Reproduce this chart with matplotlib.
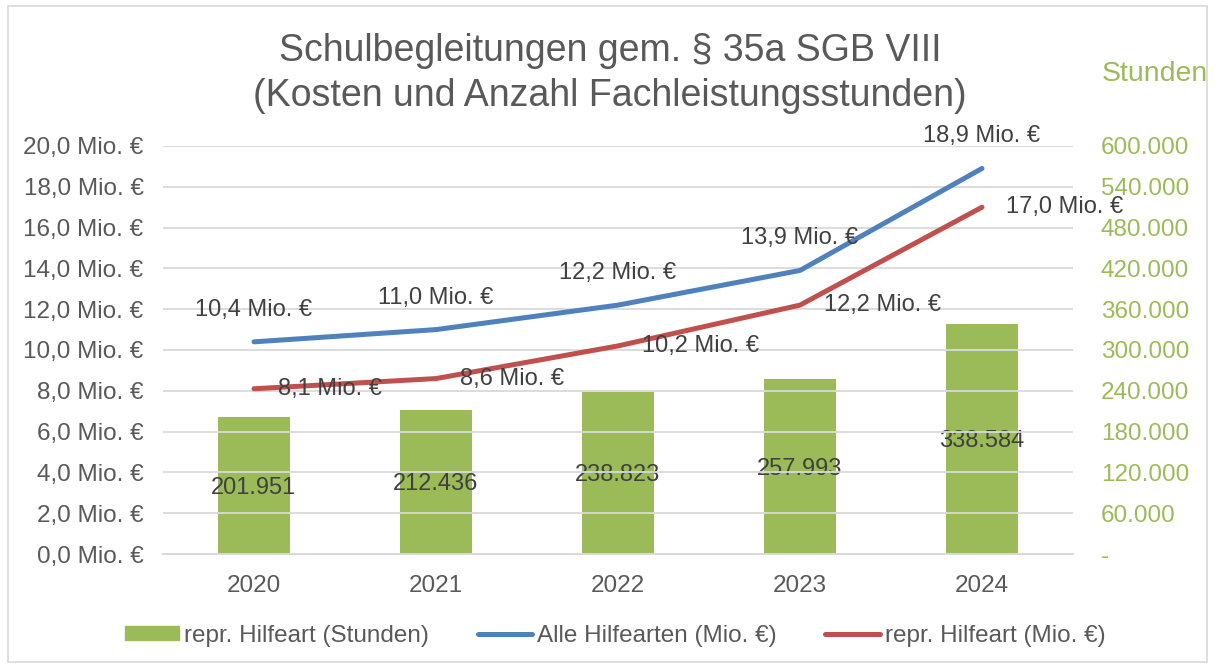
import matplotlib
matplotlib.use("Agg")
import matplotlib.pyplot as plt
from matplotlib.patches import Rectangle
from matplotlib.lines import Line2D
from matplotlib.ticker import FuncFormatter, MultipleLocator

plt.rcParams['font.family'] = ['Liberation Sans', 'DejaVu Sans']

years = ["2020", "2021", "2022", "2023", "2024"]
hours = [201951, 212436, 238823, 257993, 338584]
all_cost = [10.4, 11.0, 12.2, 13.9, 18.9]
repr_cost = [8.1, 8.6, 10.2, 12.2, 17.0]

title_lines = ["Schulbegleitungen gem. § 35a SGB VIII", "(Kosten und Anzahl Fachleistungsstunden)"]
legend_labels = ["repr. Hilfeart (Stunden)", "Alle Hilfearten (Mio. €)", "repr. Hilfeart (Mio. €)"]

GREEN = "#9BBB59"
BLUE = "#4F81BD"
RED = "#C0504D"
GREY_TXT = "#595959"
DARK_TXT = "#404040"
GRID = "#D9D9D9"

fig = plt.figure(figsize=(12.17, 6.68), dpi=100)
fig.patches.append(Rectangle((8/1217, 6/668), 1199/1217, 656/668, transform=fig.transFigure,
                             fill=False, edgecolor=GRID, linewidth=1.2))

ax = fig.add_axes([163/1217, 114/668, 910/1217, 408/668])
ax2 = ax.twinx()

x = list(range(len(years)))

# bars on the secondary axis
bars = ax2.bar(x, hours, width=0.4, color=GREEN, zorder=2)
ax2.set_ylim(0, 600000)
ax2.yaxis.set_major_locator(MultipleLocator(60000))
ax2.yaxis.set_major_formatter(FuncFormatter(lambda v, p: "-" if v == 0 else f"{int(v):,}".replace(",", ".")))
ax2.tick_params(axis='y', colors=GREEN, labelsize=17.5, length=0, pad=20)
for b, h in zip(bars, hours):
    ax2.text(b.get_x() + b.get_width() / 2, h / 2, f"{h:,}".replace(",", "."),
             ha='center', va='center_baseline', fontsize=17, color=DARK_TXT, zorder=5)

ax.set_xlim(-0.5, len(years) - 0.5)
ax.set_ylim(0, 20)
ax.yaxis.set_major_locator(MultipleLocator(2))
ax.yaxis.set_major_formatter(FuncFormatter(lambda v, p: f"{v:.1f}".replace(".", ",") + " Mio. €"))
ax.tick_params(axis='y', colors=GREY_TXT, labelsize=17.5, length=0, pad=14)
ax.set_xticks(x)
ax.set_xticklabels(years)
ax.tick_params(axis='x', colors=GREY_TXT, labelsize=17.5, length=0, pad=15)
ax.grid(axis='y', color=GRID, linewidth=1.3, zorder=0)
ax.set_axisbelow(True)
for a in (ax, ax2):
    for s in ['top', 'left', 'right']:
        a.spines[s].set_visible(False)
    a.spines['bottom'].set_color(GRID)
    a.spines['bottom'].set_linewidth(1.3)

# lines drawn above the bars
ax.set_zorder(ax2.get_zorder() + 1)
ax.patch.set_visible(False)

for ys, col in ((all_cost, BLUE), (repr_cost, RED)):
    ax.plot(x, ys, color=col, linewidth=3.6, solid_capstyle='round', solid_joinstyle='round', zorder=3)

for xi, v in zip(x, all_cost):
    ax.annotate(f"{v:.1f}".replace(".", ",") + " Mio. €", (xi, v), xytext=(0, 23),
                textcoords='offset points', ha='center', va='center', fontsize=17, color=DARK_TXT, zorder=5)
for xi, v in zip(x, repr_cost):
    ax.annotate(f"{v:.1f}".replace(".", ",") + " Mio. €", (xi, v), xytext=(17, 0),
                textcoords='offset points', ha='left', va='center', fontsize=17, color=DARK_TXT, zorder=5)

fig.text(610/1217, 1 - 51/668, title_lines[0], ha='center', va='center', fontsize=27, color=GREY_TXT)
fig.text(610/1217, 1 - 96/668, title_lines[1], ha='center', va='center', fontsize=27, color=GREY_TXT)
fig.text(1102/1217, 1 - 74/668, "Stunden", ha='left', va='center', fontsize=20.5, color=GREEN)

handles = [Rectangle((0, 0), 1, 1, color=GREEN),
           Line2D([0], [0], color=BLUE, linewidth=3.6, solid_capstyle='round'),
           Line2D([0], [0], color=RED, linewidth=3.6, solid_capstyle='round')]
leg = fig.legend(handles, legend_labels, loc='center', bbox_to_anchor=(615/1217, 1 - 636/668),
                 ncol=3, frameon=False, fontsize=17.5, handlelength=2.25, handleheight=0.5,
                 handletextpad=0.2, columnspacing=2.0, labelcolor=GREY_TXT)

fig.savefig("out.png", dpi=100)
